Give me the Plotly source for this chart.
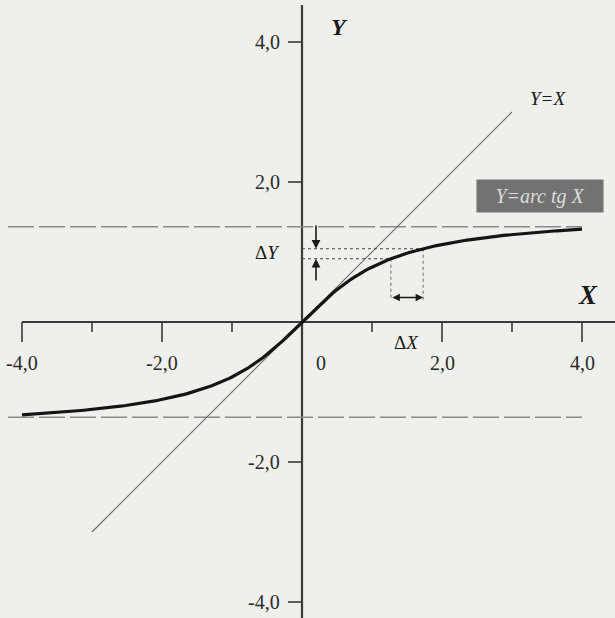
import numpy as np
import plotly.graph_objects as go

# Tick positions and labels
x_ticks_major = [-4, -2, 2, 4]
x_ticks_minor = [-3, -1, 1, 3]
x_tick_labels = ["-4,0", "-2,0", "2,0", "4,0"]
y_ticks = [-4, -2, 2, 4]
y_tick_labels = ["-4,0", "-2,0", "2,0", "4,0"]

# The function Y = arc tg X on [-4, 4]
curve_x = np.linspace(-4, 4, 201)
curve_y = np.arctan(curve_x)

# Reference line Y = X
diag_x = [-3, 3]
diag_y = [-3, 3]

# Horizontal dashed guide levels
asymptote_level = 1.36
asymptote_x = [-4.2, 4.0]

# Increment interval dX on the curve
dx_bounds = [1.27, 1.73]
dy_bounds = [float(np.arctan(v)) for v in dx_bounds]

PX = 70.0  # pixels per unit on both axes
x_range = [-302 / PX, 313 / PX]
y_range = [-296 / PX, 322 / PX]

AXIS = "#3a3a3a"
SERIF = "Liberation Serif, Times New Roman, serif"

fig = go.Figure()

# Coordinate axes
fig.add_trace(go.Scatter(x=[-4, x_range[1]], y=[0, 0], mode="lines",
                         line=dict(color=AXIS, width=2.2), hoverinfo="skip"))
fig.add_trace(go.Scatter(x=[0, 0], y=[y_range[0], 4.53], mode="lines",
                         line=dict(color=AXIS, width=2.2), hoverinfo="skip"))

# X ticks (long at even values, short at odd values)
tx, ty = [], []
for v in x_ticks_major:
    tx += [v, v, None]
    ty += [0, -20 / PX, None]
for v in x_ticks_minor:
    tx += [v, v, None]
    ty += [0, -10 / PX, None]
fig.add_trace(go.Scatter(x=tx, y=ty, mode="lines",
                         line=dict(color=AXIS, width=1.6), hoverinfo="skip"))

# Y ticks
ux, uy = [], []
for v in y_ticks:
    ux += [-14 / PX, 0, None]
    uy += [v, v, None]
fig.add_trace(go.Scatter(x=ux, y=uy, mode="lines",
                         line=dict(color=AXIS, width=1.6), hoverinfo="skip"))

# Dashed horizontal guides
for lvl in (asymptote_level, -asymptote_level):
    fig.add_trace(go.Scatter(x=asymptote_x, y=[lvl, lvl], mode="lines",
                             line=dict(color="#8a8a8a", width=1.6, dash="26px,5px"),
                             hoverinfo="skip"))

# Y = X line
fig.add_trace(go.Scatter(x=diag_x, y=diag_y, mode="lines",
                         line=dict(color="#6a6a6a", width=1.1), hoverinfo="skip"))

# Dotted construction lines for dX and dY
for xv, yv in zip(dx_bounds, dy_bounds):
    fig.add_trace(go.Scatter(x=[0, xv], y=[yv, yv], mode="lines",
                             line=dict(color="#444", width=1.2, dash="dot"),
                             hoverinfo="skip"))
    fig.add_trace(go.Scatter(x=[xv, xv], y=[yv, 0.31], mode="lines",
                             line=dict(color="#666", width=1.0, dash="dot"),
                             hoverinfo="skip"))

# The arc tangent curve
fig.add_trace(go.Scatter(x=curve_x, y=curve_y, mode="lines",
                         line=dict(color="#151515", width=3.2), hoverinfo="skip"))

annotations = []

# Tick labels
for v, t in zip(x_ticks_major, x_tick_labels):
    annotations.append(dict(x=v, y=-0.58, text=t, showarrow=False,
                            xanchor="center", yanchor="middle",
                            font=dict(family=SERIF, size=20, color="#2a2a2a")))
annotations.append(dict(x=0.27, y=-0.58, text="0", showarrow=False,
                        xanchor="center", yanchor="middle",
                        font=dict(family=SERIF, size=20, color="#2a2a2a")))
for v, t in zip(y_ticks, y_tick_labels):
    annotations.append(dict(x=-0.29, y=v, text=t, showarrow=False,
                            xanchor="right", yanchor="middle",
                            font=dict(family=SERIF, size=20, color="#2a2a2a")))

# Axis names
annotations.append(dict(x=0.53, y=4.22, text="<i><b>Y</b></i>", showarrow=False,
                        xanchor="center", yanchor="middle",
                        font=dict(family=SERIF, size=24, color="#1a1a1a")))
annotations.append(dict(x=4.09, y=0.38, text="<i><b>X</b></i>", showarrow=False,
                        xanchor="center", yanchor="middle",
                        font=dict(family=SERIF, size=27, color="#1a1a1a")))

# Line labels
annotations.append(dict(x=3.51, y=3.2, text="<i>Y=X</i>", showarrow=False,
                        xanchor="center", yanchor="middle",
                        font=dict(family=SERIF, size=19, color="#1a1a1a")))
annotations.append(dict(x=3.4, y=1.8, text="<i>Y=arc tg X</i>", showarrow=False,
                        xanchor="center", yanchor="middle",
                        bgcolor="#727272", width=124, height=30,
                        font=dict(family=SERIF, size=20, color="#dcdcdc")))

# Increment labels
annotations.append(dict(x=-0.49, y=1.0, text="Δ<i>Y</i>", showarrow=False,
                        xanchor="center", yanchor="middle",
                        font=dict(family=SERIF, size=19, color="#1a1a1a")))
annotations.append(dict(x=1.49, y=-0.29, text="Δ<i>X</i>", showarrow=False,
                        xanchor="center", yanchor="middle",
                        font=dict(family=SERIF, size=19, color="#1a1a1a")))

# dY arrows pointing toward the dotted levels
annotations.append(dict(x=0.2, y=dy_bounds[1], ax=0.2, ay=1.4,
                        xref="x", yref="y", axref="x", ayref="y",
                        showarrow=True, arrowhead=2, arrowsize=1.1,
                        arrowwidth=1.6, arrowcolor="#1a1a1a", text=""))
annotations.append(dict(x=0.2, y=dy_bounds[0], ax=0.2, ay=0.57,
                        xref="x", yref="y", axref="x", ayref="y",
                        showarrow=True, arrowhead=2, arrowsize=1.1,
                        arrowwidth=1.6, arrowcolor="#1a1a1a", text=""))

# dX double arrow
annotations.append(dict(x=dx_bounds[1], y=0.35, ax=dx_bounds[0], ay=0.35,
                        xref="x", yref="y", axref="x", ayref="y",
                        showarrow=True, arrowhead=2, startarrowhead=2,
                        arrowside="end+start", arrowsize=1.0,
                        arrowwidth=1.5, arrowcolor="#1a1a1a", text=""))

fig.update_layout(
    width=615, height=618,
    margin=dict(l=0, r=0, t=0, b=0),
    paper_bgcolor="#efefeb", plot_bgcolor="#efefeb",
    showlegend=False,
    xaxis=dict(range=x_range, visible=False, fixedrange=True),
    yaxis=dict(range=y_range, visible=False, fixedrange=True),
    annotations=annotations,
)

fig.write_html("out.html")
